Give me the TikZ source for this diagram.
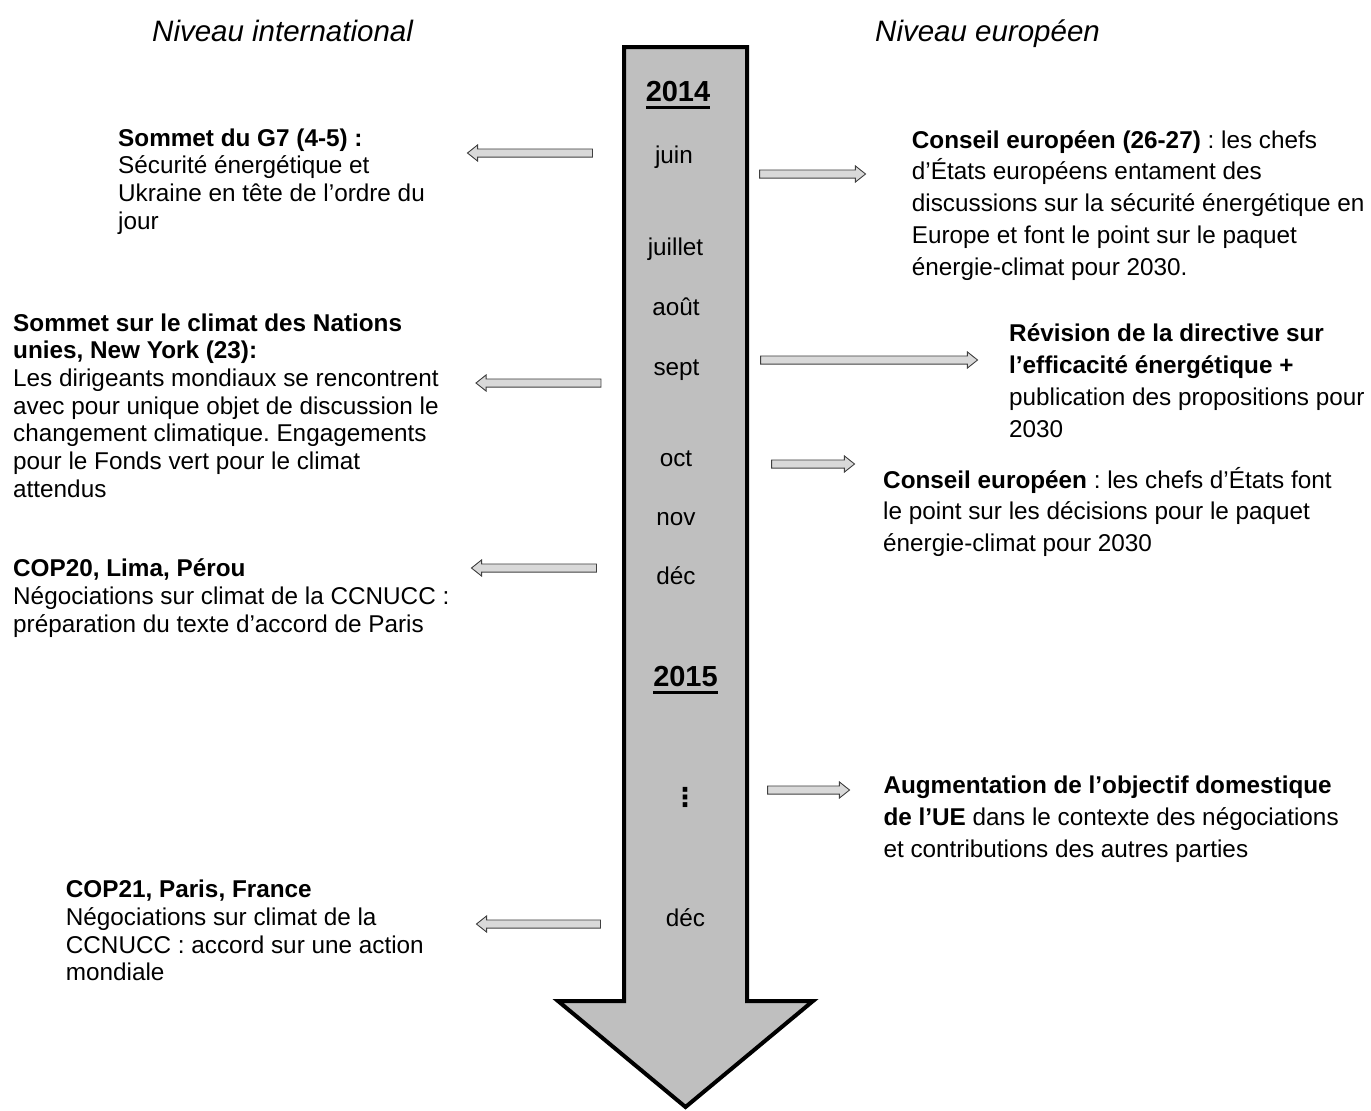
\documentclass[tikz,border=0pt]{standalone}
\usepackage{fontspec}
\setmainfont{Liberation Sans}
\newfontfamily\dejavu{DejaVu Sans}
\usetikzlibrary{shapes.arrows}
\frenchspacing
\definecolor{shaftgray}{RGB}{191,191,191}
\definecolor{smallgray}{RGB}{217,217,217}
\definecolor{edgegray}{RGB}{64,64,64}
\newcommand\yul[1]{\setbox0\hbox{#1}\rlap{\vrule width\wd0 height -4pt depth 7pt}\box0}
\tikzset{
  lbl/.style={font=\fontsize{24.3}{27.7}\selectfont, align=left, inner sep=0pt, anchor=base west},
  rbl/.style={font=\fontsize{24.3}{31.8}\selectfont, align=left, inner sep=0pt, anchor=base west},
  head/.style={font=\fontsize{29.5}{32}\selectfont\itshape, inner sep=0pt, anchor=base west},
  year/.style={font=\fontsize{29}{32}\selectfont\bfseries, inner sep=0pt, anchor=base},
  month/.style={font=\fontsize{24.3}{27.7}\selectfont, inner sep=0pt, anchor=base},
  sarrow/.style={single arrow, draw=edgegray, fill=smallgray, line width=0.9pt,
    inner sep=3.6pt, single arrow head extend=4pt, single arrow tip angle=77,
    single arrow head indent=0pt},
  larrow/.style={sarrow, shape border rotate=180},
}
\begin{document}
\begin{tikzpicture}[x=1pt,y=-1pt]
\useasboundingbox (0,0) rectangle (1371,1111);

% big timeline arrow
\draw[line width=4pt, fill=shaftgray, line join=miter, miter limit=10]
  (624,47) -- (747,47) -- (747,1001) -- (813,1001) -- (685.5,1107)
  -- (558,1001) -- (624,1001) -- cycle;

% headings
\node[head] (hint) at (152,41) {Niveau international};
\node[head] (heur) at (875,41) {Niveau européen};

% timeline labels
\node[year] (y14) at (678,101.7) {\yul{2014}};
\node[month] (m1) at (674,163) {juin};
\node[month] (m2) at (675.5,255) {juillet};
\node[month] (m3) at (676,315) {août};
\node[month] (m4) at (676.5,375) {sept};
\node[month] (m5) at (676,466) {oct};
\node[month] (m6) at (676,525) {nov};
\node[month] (m7) at (676,584) {déc};
\node[year] (y15) at (685.5,686.7) {\yul{2015}};
\node[inner sep=0pt, font=\dejavu\bfseries\fontsize{26}{30}\selectfont] (dots) at (685,797) {⋮};
\node[month] (m8) at (685.5,926.7) {déc};

% small arrows
\node[larrow, minimum height=125pt] (a1) at (532.5,153) {};
\node[larrow, minimum height=125pt] (a2) at (541,383) {};
\node[larrow, minimum height=125pt] (a3) at (536.5,568) {};
\node[larrow, minimum height=124pt] (a4) at (541,924) {};
\node[sarrow, minimum height=106pt] (a5) at (810,174) {};
\node[sarrow, minimum height=217pt] (a6) at (866.5,360) {};
\node[sarrow, minimum height=83pt] (a7) at (810.5,464) {};
\node[sarrow, minimum height=82pt] (a8) at (806,790) {};

% left texts (anchor = baseline of the last line)
\node[lbl] (g7) at (118,229.1) {\textbf{Sommet du G7 (4-5) :}\\Sécurité énergétique et\\Ukraine en tête de l’ordre du\\jour};
\node[lbl] (ny) at (13,497.2) {\textbf{Sommet sur le climat des Nations}\\\textbf{unies, New York (23):}\\Les dirigeants mondiaux se rencontrent\\avec pour unique objet de discussion le\\changement climatique. Engagements\\pour le Fonds vert pour le climat\\attendus};
\node[lbl] (cop20) at (13,632.1) {\textbf{COP20, Lima, Pérou}\\Négociations sur climat de la CCNUCC :\\préparation du texte d’accord de Paris};
\node[lbl] (cop21) at (65.7,980.8) {\textbf{COP21, Paris, France}\\Négociations sur climat de la\\CCNUCC : accord sur une action\\mondiale};

% right texts
\node[rbl] (ce1) at (911.7,275.2) {\textbf{Conseil européen (26-27)} : les chefs\\d’États européens entament des\\discussions sur la sécurité énergétique en\\Europe et font le point sur le paquet\\énergie-climat pour 2030.};
\node[rbl] (rev) at (1009,437.1) {\textbf{Révision de la directive sur}\\\textbf{l’efficacité énergétique +}\\publication des propositions pour\\2030};
\node[rbl] (ce2) at (883,551.6) {\textbf{Conseil européen} : les chefs d’États font\\le point sur les décisions pour le paquet\\énergie-climat pour 2030};
\node[rbl] (aug) at (883.3,857.1) {\textbf{Augmentation de l’objectif domestique}\\\textbf{de l’UE} dans le contexte des négociations\\et contributions des autres parties};
\end{tikzpicture}
\end{document}
